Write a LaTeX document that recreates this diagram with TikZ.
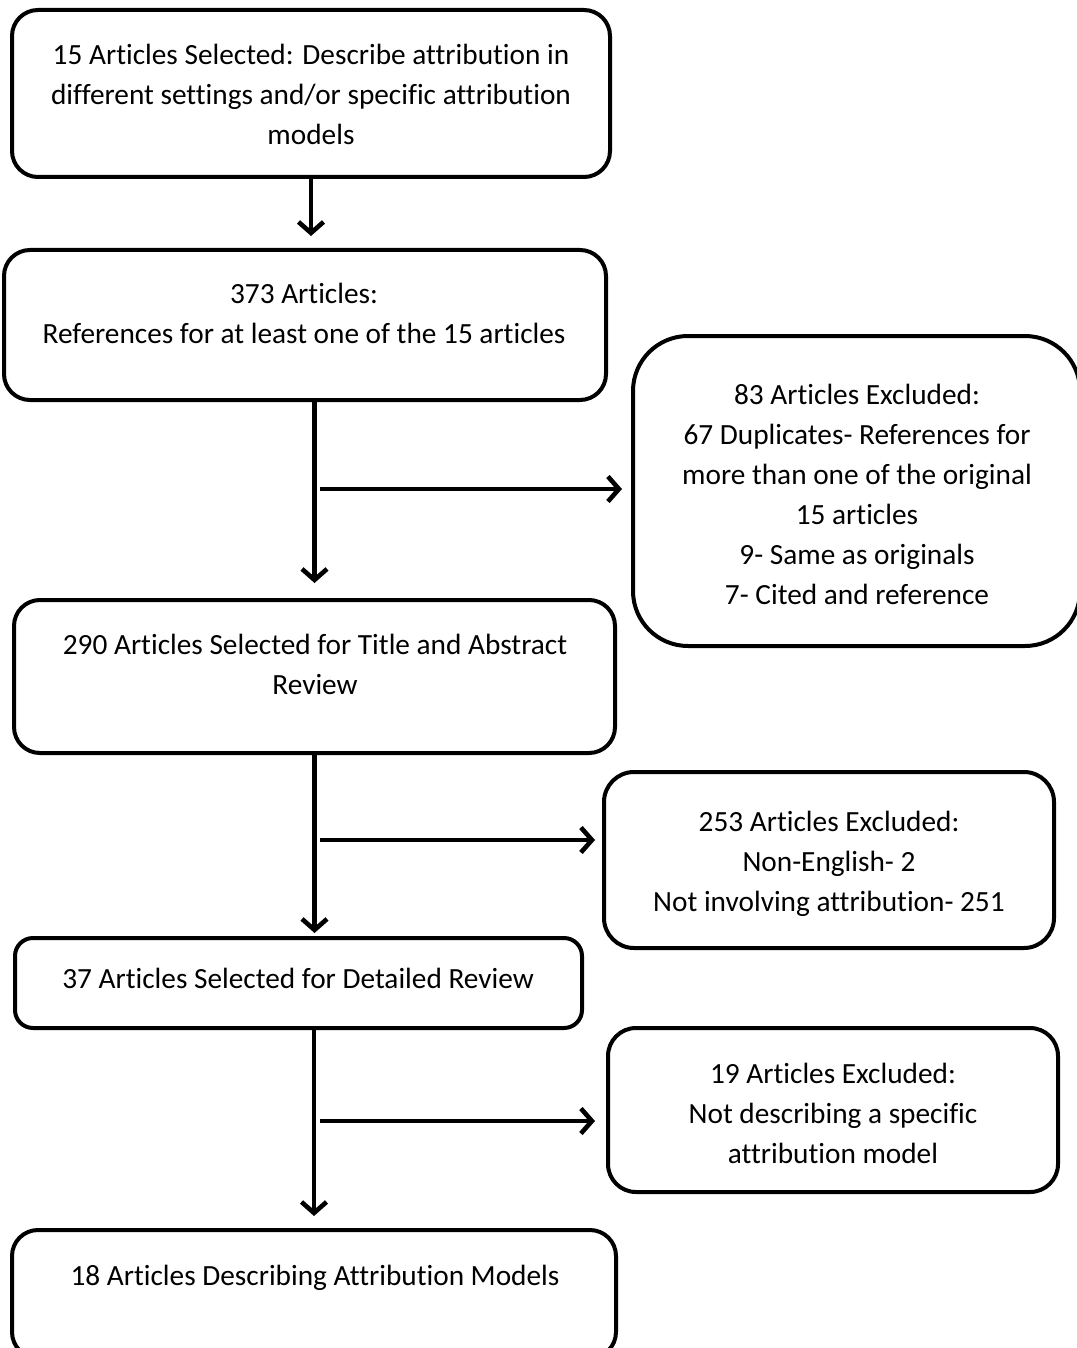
\documentclass[tikz,border=0pt]{standalone}
\usepackage{fontspec}
\setmainfont{Carlito}[Ligatures=NoCommon]
\usetikzlibrary{arrows.meta}

\begin{document}
\begin{tikzpicture}[x=1pt,y=-1pt]
\tikzstyle{box} = [draw, line width=4pt, rounded corners=26pt, inner sep=0pt]
\tikzstyle{txt} = [align=center, inner sep=0pt, font=\fontsize{29.3}{40}\selectfont]
\tikzstyle{arr} = [line width=4.6pt, -{Straight Barb[length=11pt,width=25pt]}]

\useasboundingbox (0,0) rectangle (1076,1348);

% boxes
\draw(311,93.5) node[box,minimum width=598pt,minimum height=167pt]     (sel) {};
\draw(305,325) node[box,minimum width=602pt,minimum height=150pt]      (refs) {};
\draw(856.5,491) node[box,rounded corners=55pt,minimum width=447pt,minimum height=310pt] (excdup) {};
\draw(314.5,676.5) node[box,minimum width=601pt,minimum height=153pt]  (titab) {};
\draw(829,860) node[box,rounded corners=30pt,minimum width=450pt,minimum height=176pt]   (excnon) {};
\draw(298.5,983) node[box,rounded corners=18pt,minimum width=567pt,minimum height=90pt]  (detail) {};
\draw(833,1110) node[box,rounded corners=28pt,minimum width=450pt,minimum height=164pt]  (excmod) {};
\draw(314,1294) node[box,minimum width=604pt,minimum height=128pt]     (final) {};

% texts
\draw(311,94) node[txt] (tsel) {15 Articles Selected: Describe attribution in\\different settings and/or specific attribution\\models};
\draw(304,313) node[txt] (trefs) {373 Articles:\\References for at least one of the 15 articles};
\draw(857,494) node[txt] (texcdup) {83 Articles Excluded:\\67 Duplicates- References for\\more than one of the original\\15 articles\\9- Same as originals\\7- Cited and reference};
\draw(315,664) node[txt] (ttitab) {290 Articles Selected for Title and Abstract\\Review};
\draw(829,864) node[txt] (texcnon) {253 Articles Excluded:\\Non-English- 2\\Not involving attribution- 251};
\draw(298,978) node[txt] (tdetail) {37 Articles Selected for Detailed Review};
\draw(833,1113) node[txt] (texcmod) {19 Articles Excluded:\\Not describing a specific\\attribution model};
\draw(315,1278) node[txt] (tfinal) {18 Articles Describing Attribution Models};

% branch points
\coordinate (b1) at (320,489);
\coordinate (b2) at (320,840);
\coordinate (b3) at (320,1121);

\draw[arr,shorten >=12pt] (sel.south) -- (sel.south |- refs.north);
\draw[arr,shorten >=15pt] (refs.south -| titab.north) -- (titab.north);
\draw[arr,shorten >=3pt] (titab.south) -- (titab.south |- detail.north);
\draw[arr,shorten >=12pt] (detail.south -| final.north) -- (final.north);

\draw[arr,shorten >=9pt] (b1) -- (b1 -| excdup.west);
\draw[arr,shorten >=7pt] (b2) -- (b2 -| excnon.west);
\draw[arr,shorten >=11pt] (b3) -- (b3 -| excmod.west);

\end{tikzpicture}
\end{document}
